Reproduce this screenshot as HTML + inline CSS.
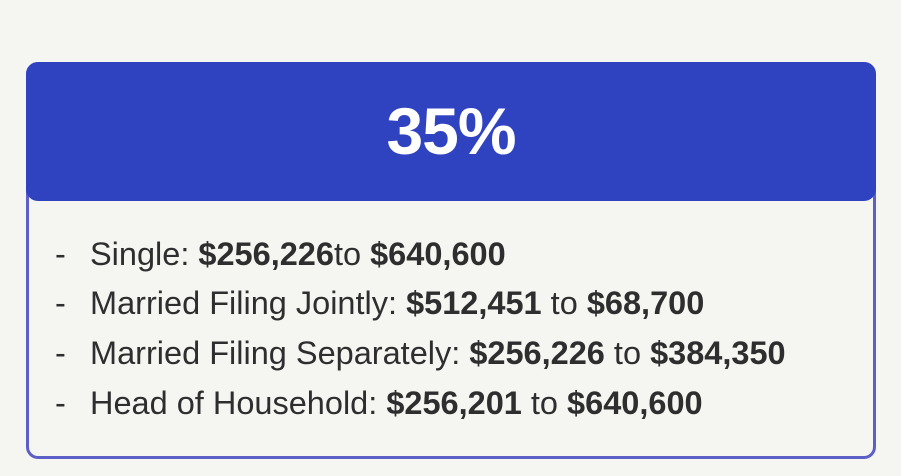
<!DOCTYPE html>
<html><head><meta charset="utf-8"><style>
html,body{margin:0;padding:0;width:901px;height:476px;background:#f5f5f1;overflow:hidden;font-family:"Liberation Sans",sans-serif}
.card{position:absolute;left:26px;top:62px;width:844px;height:394px;border:3px solid #5b5fc7;border-top:none;border-radius:12px;box-sizing:content-box}
.head{position:absolute;left:26px;top:62px;width:850px;height:139px;background:#2f43c0;border-radius:12px;color:#fff;font-weight:bold;font-size:66px;text-align:center;line-height:139px;letter-spacing:-1px}
.item{position:absolute;left:55px;font-size:32.5px;color:#2e2e2e;white-space:nowrap;line-height:36px}
.item .d{display:inline-block;width:35px}
b{font-weight:bold}
</style></head><body>
<div class="card"></div>
<div class="head">35%</div>
<div class="item" style="top:236px"><span class="d">-</span>Single: <b>$256,226</b>to <b>$640,600</b></div>
<div class="item" style="top:285px"><span class="d">-</span>Married Filing Jointly: <b>$512,451</b> to <b>$68,700</b></div>
<div class="item" style="top:335px"><span class="d">-</span>Married Filing Separately: <b>$256,226</b> to <b>$384,350</b></div>
<div class="item" style="top:385px"><span class="d">-</span>Head of Household: <b>$256,201</b> to <b>$640,600</b></div>
</body></html>
